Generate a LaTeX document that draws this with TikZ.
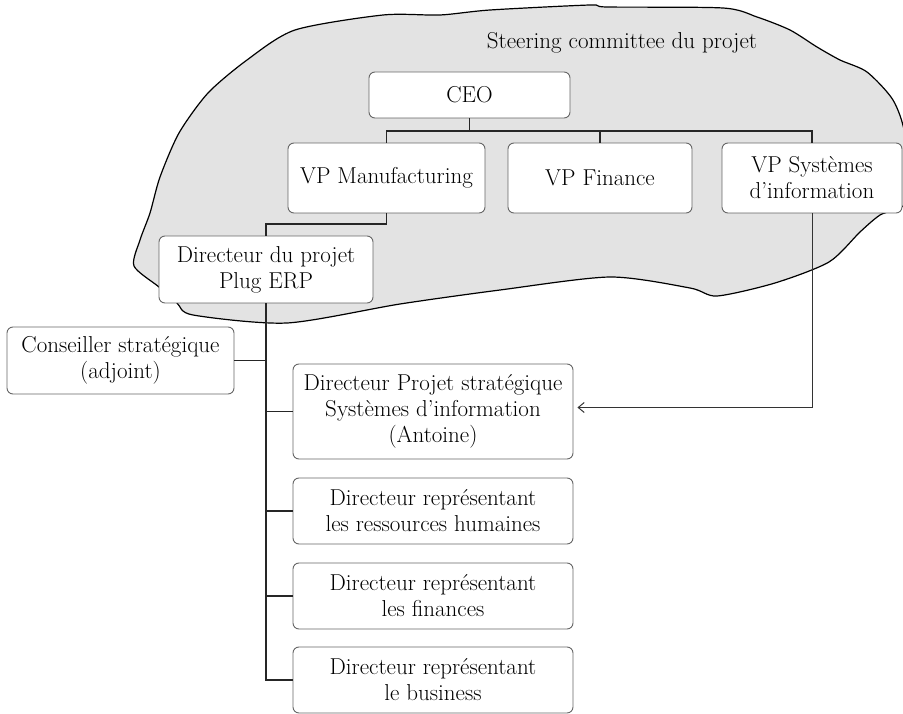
\documentclass[tikz,border=0pt]{standalone}
\usepackage{fontspec}
\usetikzlibrary{arrows.meta}
\begin{document}
\begin{tikzpicture}[x=1pt,y=-1pt,
  box/.style={draw=black!60, fill=white, rounded corners=6pt, line width=0.9pt,
              align=center, inner sep=0pt, font=\fontsize{23}{26}\selectfont},
  link/.style={draw=black!85, line width=1.2pt},
  blob/.style={draw=black, line width=1.2pt, fill=black!11},
  arrowlink/.style={draw=black!80, line width=1pt, -{Straight Barb[length=6pt,width=10pt]}},
  lbl/.style={font=\fontsize{23}{26}\selectfont, inner sep=0pt}]
\useasboundingbox (0,0) rectangle (903,714);
\clip (0,0) rectangle (903,714);

% steering committee area
\path[blob] plot[smooth cycle, tension=0.45] coordinates {
  (295,30) (383,15) (440,15) (490,10) (590,5) (607,7) (723,8) (757,17) (790,30)
  (817,47) (840,60) (867,72) (893,100) (905,135) (908,200) (880,215) (860,232)
  (829,262) (775,283) (717,296) (690,288) (610,277) (500,290) (400,304)
  (287,323) (193,315) (177,303) (159,287) (134,266) (140,240) (150,213)
  (160,177) (179,133) (208,93) (247,60)};
\node[lbl] (steer) at (622,43) {Steering committee du projet};

% boxes
\node[box, minimum width=201pt, minimum height=46pt] (ceo) at (469.5,95) {CEO};
\node[box, minimum width=197pt, minimum height=70pt] (vpm) at (386.5,178) {VP Manufacturing};
\node[box, minimum width=184pt, minimum height=70pt] (vpf) at (600,178) {VP Finance};
\node[box, minimum width=180pt, minimum height=70pt] (vps) at (812,178) {VP Systèmes\\d’information};
\node[box, minimum width=214pt, minimum height=67pt] (dir) at (266,269.5) {Directeur du projet\\Plug ERP};
\node[box, minimum width=227pt, minimum height=67pt] (cons) at (120.5,360.5) {Conseiller stratégique\\(adjoint)};
\node[box, minimum width=280pt, minimum height=95pt] (dps) at (433,411.5) {Directeur Projet stratégique\\Systèmes d’information\\(Antoine)};
\node[box, minimum width=280pt, minimum height=66pt] (drh) at (433,511) {Directeur représentant\\les ressources humaines};
\node[box, minimum width=280pt, minimum height=66pt] (dfi) at (433,596) {Directeur représentant\\les finances};
\node[box, minimum width=280pt, minimum height=66pt] (dbu) at (433,680) {Directeur représentant\\le business};

% connectors
\coordinate (busY) at (0,131);
\coordinate (elbY) at (0,224);
\draw[link] (ceo.south) -- (ceo.south |- busY);
\draw[link] (vpm.north) -- (vpm.north |- busY) -- (vps.north |- busY) -- (vps.north);
\draw[link] (vpf.north) -- (vpf.north |- busY);
\draw[link] (vpm.south) -- (vpm.south |- elbY) -- (dir.north |- elbY) -- (dir.north);
\draw[link] (dir.south) -- (dir.south |- dbu.west) -- (dbu.west);
\draw[link] (cons.east) -- (cons.east -| dir.south);
\draw[link] (dps.west -| dir.south) -- (dps.west);
\draw[link] (drh.west -| dir.south) -- (drh.west);
\draw[link] (dfi.west -| dir.south) -- (dfi.west);
\draw[arrowlink] (vps.south) |- ([xshift=4pt,yshift=4pt]dps.east);
\end{tikzpicture}
\end{document}
